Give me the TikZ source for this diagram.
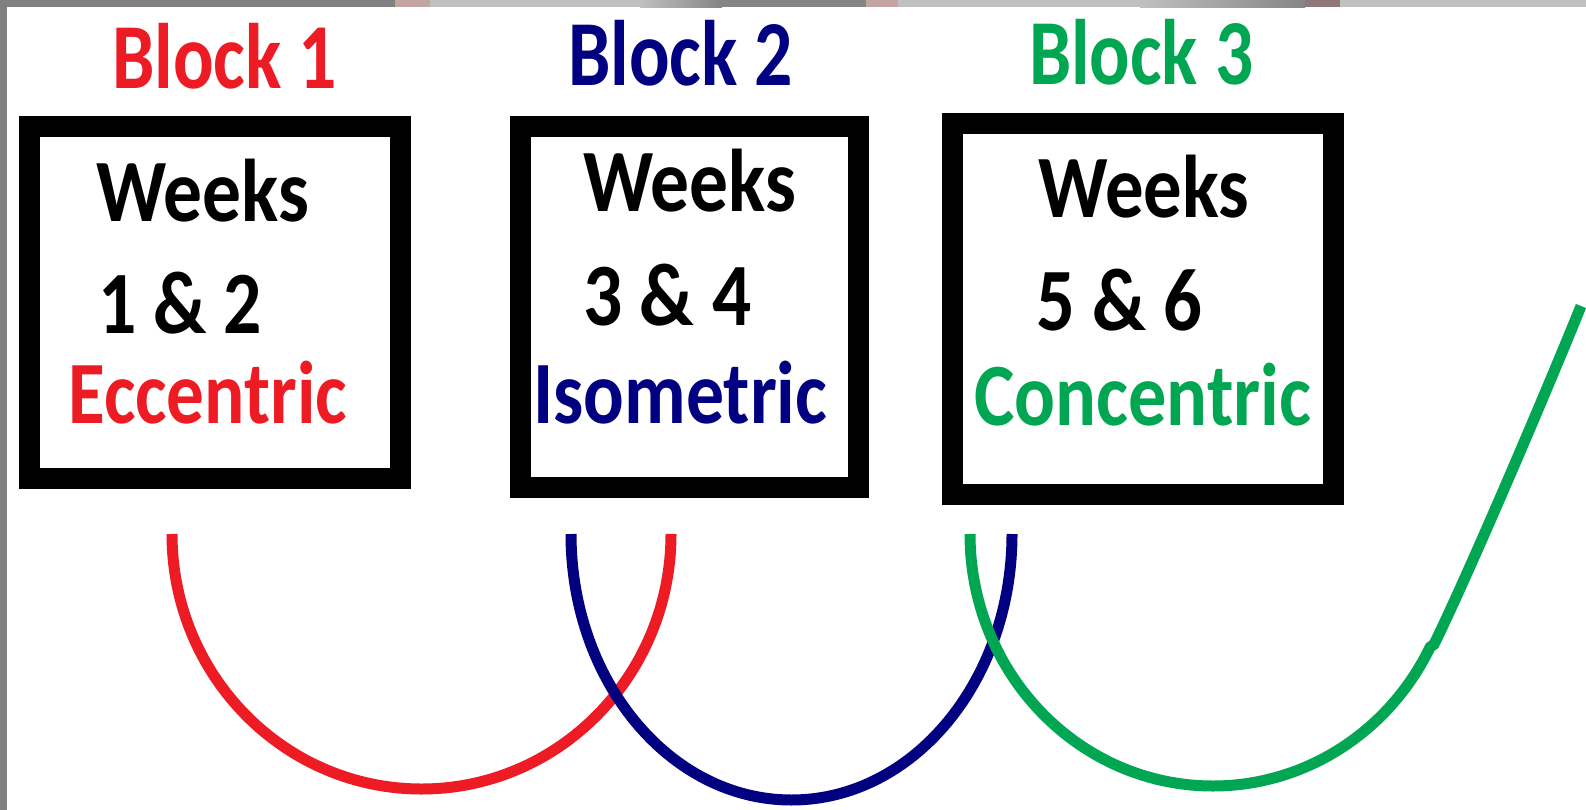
\documentclass[tikz,border=0pt]{standalone}
\usepackage{fontspec}
\setmainfont{Carlito}
\usepackage{graphicx}

\definecolor{blockred}{HTML}{ED1C24}
\definecolor{blocknavy}{HTML}{000080}
\definecolor{blockgreen}{HTML}{00A651}
\definecolor{edgegrey}{HTML}{808080}
\definecolor{stripgrey}{HTML}{C0C0C0}
\definecolor{stripdark}{HTML}{858585}
\definecolor{stripmauve}{HTML}{C2A5A1}

% set a text at a fixed width, keeping its natural height
\newcommand\fitw[2]{\resizebox{#1pt}{\height}{#2}}

\begin{document}
\begin{tikzpicture}[x=1pt,y=-1pt,
  frame/.style={draw=black, line width=21pt, fill=white, inner sep=0pt},
  title/.style={inner sep=0pt, anchor=base west,
    font={\fontsize{93}{93}\selectfont\bfseries}},
  body/.style={inner sep=0pt, anchor=base west,
    font={\fontsize{89}{89}\selectfont\bfseries}},
  linkline/.style={line width=11pt}]

\useasboundingbox (0,0) rectangle (1586,810);
\fill[white] (0,0) rectangle (1586,810);

% grey strips along the top and left edges
\fill[stripgrey] (0,0) rectangle (1586,7.3);
\fill[edgegrey] (0,0) rectangle (395,7.3);
\fill[stripmauve] (395,0) rectangle (430,7.3);
\shade[left color=stripgrey, right color=stripdark] (640,0) rectangle (722,7.3);
\fill[stripdark] (722,0) rectangle (866,7.3);
\fill[stripmauve] (866,0) rectangle (898,7.3);
\shade[left color=stripgrey, right color=stripdark] (1140,0) rectangle (1305,7.3);
\fill[stripdark!90!red] (1305,0) rectangle (1340,7.3);
\fill[edgegrey] (0,0) rectangle (7.3,810);

% the three framed blocks
\node[frame, minimum width=371pt, minimum height=352pt] (box1) at (214.5,302.5) {};
\node[frame, minimum width=338pt, minimum height=361pt] (box2) at (689.5,307) {};
\node[frame, minimum width=381pt, minimum height=371pt] (box3) at (1143,309) {};

% headings
\node[title, text=blockred]   (head1) at (112,89) {\fitw{225}{Block 1}};
\node[title, text=blocknavy]  (head2) at (568,86) {\fitw{225}{Block 2}};
\node[title, text=blockgreen] (head3) at (1029,85) {\fitw{224}{Block 3}};

% contents of block 1
\node[body] (wk1) at (96,222) {\fitw{213}{Weeks}};
\node[body] (nr1) at (98,333) {\fitw{164}{1 \& 2}};
\node[body, text=blockred] (ty1) at (68,423) {\fitw{279}{Eccentric}};

% contents of block 2
\node[body] (wk2) at (583,212) {\fitw{213}{Weeks}};
\node[body] (nr2) at (583,325) {\fitw{168}{3 \& 4}};
\node[body, text=blocknavy] (ty2) at (533,423) {\fitw{294}{Isometric}};

% contents of block 3
\node[body] (wk3) at (1038,218) {\fitw{211}{Weeks}};
\node[body] (nr3) at (1036,330) {\fitw{166}{5 \& 6}};
\node[body, text=blockgreen] (ty3) at (974,425) {\fitw{337}{Concentric}};

% loops linking the blocks
\coordinate (redstart) at (172,534);
\coordinate (navystart) at (571,534);
\coordinate (greenstart) at (970,534);
\coordinate (greenend) at (1581,306);

\draw[linkline, draw=blockred] (redstart)
  arc[start angle=180, end angle=0, x radius=249.5, y radius=255];
\draw[linkline, draw=blocknavy] (navystart)
  arc[start angle=180, end angle=0, x radius=220.5, y radius=266];
\draw[linkline, draw=blockgreen] (greenstart)
  arc[start angle=180, end angle=26.7, x radius=243, y radius=252]
  -- ++(4,-3) .. controls (1468,575) and (1545,395) .. (greenend);
\end{tikzpicture}
\end{document}
